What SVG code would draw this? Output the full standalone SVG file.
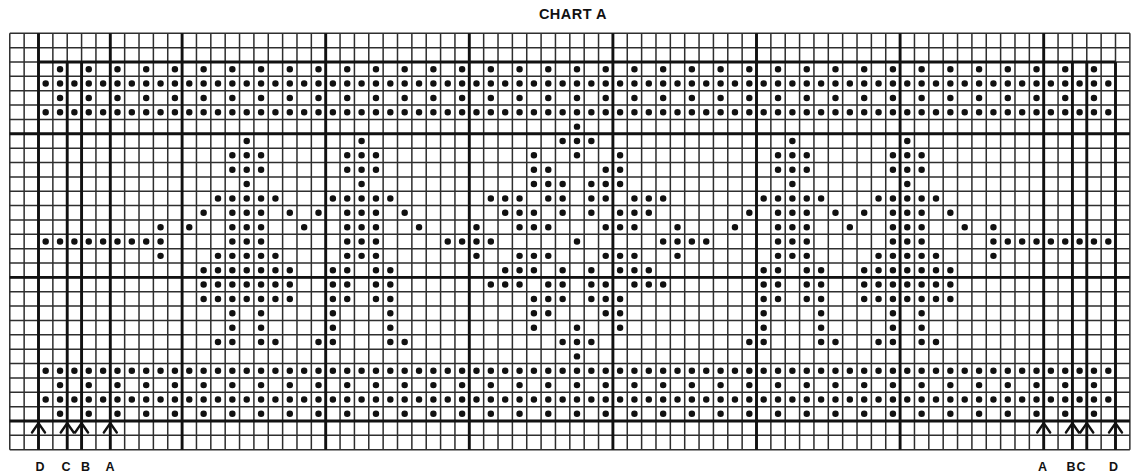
<svg xmlns="http://www.w3.org/2000/svg" width="1139" height="475" viewBox="0 0 1139 475">
<style>
.thin{fill:none;stroke:#2e2e2e;stroke-width:1.5;vector-effect:non-scaling-stroke}
.thick{fill:none;stroke:#111;stroke-width:2.9;vector-effect:non-scaling-stroke}
.arr{fill:none;stroke:#111;stroke-width:2.4;vector-effect:non-scaling-stroke;stroke-linejoin:round;stroke-linecap:round}
.dot{fill:none;stroke:#111;stroke-width:.45;stroke-linecap:round}
.d1{stroke-dasharray:0 1}
.d2{stroke-dasharray:0 2}
text{font-family:"Liberation Sans",Arial,sans-serif;font-weight:bold;fill:#111}
.lbl{font-size:12.5px;text-anchor:middle}
</style>
<rect width="1139" height="475" fill="#fff"/>
<text x="573" y="19" font-size="14.5" letter-spacing=".5" text-anchor="middle">CHART A</text>
<g id="grid" transform="translate(38.5 62) scale(14.36)">
<path class="thin" d="M-2-2V27M-1-2V27M0-2V27M1-2V27M2-2V27M3-2V27M4-2V27M5-2V27M6-2V27M7-2V27M8-2V27M9-2V27M10-2V27M11-2V27M12-2V27M13-2V27M14-2V27M15-2V27M16-2V27M17-2V27M18-2V27M19-2V27M20-2V27M21-2V27M22-2V27M23-2V27M24-2V27M25-2V27M26-2V27M27-2V27M28-2V27M29-2V27M30-2V27M31-2V27M32-2V27M33-2V27M34-2V27M35-2V27M36-2V27M37-2V27M38-2V27M39-2V27M40-2V27M41-2V27M42-2V27M43-2V27M44-2V27M45-2V27M46-2V27M47-2V27M48-2V27M49-2V27M50-2V27M51-2V27M52-2V27M53-2V27M54-2V27M55-2V27M56-2V27M57-2V27M58-2V27M59-2V27M60-2V27M61-2V27M62-2V27M63-2V27M64-2V27M65-2V27M66-2V27M67-2V27M68-2V27M69-2V27M70-2V27M71-2V27M72-2V27M73-2V27M74-2V27M75-2V27M76-2V27"/>
<path class="thin" d="M-2-2H76M-2-1H76M-2 0H76M-2 1H76M-2 2H76M-2 3H76M-2 4H76M-2 5H76M-2 6H76M-2 7H76M-2 8H76M-2 9H76M-2 10H76M-2 11H76M-2 12H76M-2 13H76M-2 14H76M-2 15H76M-2 16H76M-2 17H76M-2 18H76M-2 19H76M-2 20H76M-2 21H76M-2 22H76M-2 23H76M-2 24H76M-2 25H76M-2 26H76M-2 27H76"/>
<path class="thick" d="M0-2V27M5-2V27M10-2V27M20-2V27M30-2V27M40-2V27M50-2V27M60-2V27M70-2V27M2 0V27M3 0V27M72 0V27M73 0V27M75 0V27M0 0H75M-2 5H76M-2 15H76M-2 25H76"/>
</g>
<g id="arrows" transform="translate(38.5 62) scale(14.36)">
<path class="arr" d="M-0.45 25.8L0 25.15L0.45 25.8M1.55 25.8L2 25.15L2.45 25.8M2.55 25.8L3 25.15L3.45 25.8M4.55 25.8L5 25.15L5.45 25.8M69.55 25.8L70 25.15L70.45 25.8M71.55 25.8L72 25.15L72.45 25.8M72.55 25.8L73 25.15L73.45 25.8M74.55 25.8L75 25.15L75.45 25.8"/>
</g>
<g id="dots" transform="translate(45.68 69.19) scale(14.36)">
<path class="dot d2" d="M1 0H73.01M1 2H73.01M1 22H73.01M1 24H73.01"/>
<path class="dot d1" d="M0 1H74.01M0 3H74.01M0 21H74.01M0 23H74.01M0 12H8.01M66 12H74.01M11 14H17.01M57 14H63.01M11 15H17.01M57 15H63.01M11 16H17.01M57 16H63.01"/>
<path class="dot" d="M37 4h0"/>
<path class="dot" d="M14 5h0M22 5h0M36 5h0M37 5h0M38 5h0M52 5h0M60 5h0"/>
<path class="dot" d="M13 6h0M14 6h0M15 6h0M21 6h0M22 6h0M23 6h0M34 6h0M37 6h0M40 6h0M51 6h0M52 6h0M53 6h0M59 6h0M60 6h0M61 6h0"/>
<path class="dot" d="M13 7h0M14 7h0M15 7h0M21 7h0M22 7h0M23 7h0M34 7h0M35 7h0M39 7h0M40 7h0M51 7h0M52 7h0M53 7h0M59 7h0M60 7h0M61 7h0"/>
<path class="dot" d="M14 8h0M22 8h0M34 8h0M35 8h0M36 8h0M38 8h0M39 8h0M40 8h0M52 8h0M60 8h0"/>
<path class="dot" d="M12 9h0M13 9h0M14 9h0M15 9h0M16 9h0M20 9h0M21 9h0M22 9h0M23 9h0M24 9h0M31 9h0M32 9h0M33 9h0M35 9h0M36 9h0M38 9h0M39 9h0M41 9h0M42 9h0M43 9h0M50 9h0M51 9h0M52 9h0M53 9h0M54 9h0M58 9h0M59 9h0M60 9h0M61 9h0M62 9h0"/>
<path class="dot" d="M11 10h0M13 10h0M14 10h0M15 10h0M17 10h0M19 10h0M21 10h0M22 10h0M23 10h0M25 10h0M32 10h0M33 10h0M34 10h0M36 10h0M38 10h0M40 10h0M41 10h0M42 10h0M49 10h0M51 10h0M52 10h0M53 10h0M55 10h0M57 10h0M59 10h0M60 10h0M61 10h0M63 10h0"/>
<path class="dot" d="M8 11h0M10 11h0M13 11h0M14 11h0M15 11h0M18 11h0M21 11h0M22 11h0M23 11h0M26 11h0M30 11h0M33 11h0M34 11h0M35 11h0M39 11h0M40 11h0M41 11h0M44 11h0M48 11h0M51 11h0M52 11h0M53 11h0M56 11h0M59 11h0M60 11h0M61 11h0M64 11h0M66 11h0"/>
<path class="dot" d="M13 12h0M14 12h0M15 12h0M21 12h0M22 12h0M23 12h0M28 12h0M29 12h0M30 12h0M31 12h0M37 12h0M43 12h0M44 12h0M45 12h0M46 12h0M51 12h0M52 12h0M53 12h0M59 12h0M60 12h0M61 12h0"/>
<path class="dot" d="M8 13h0M12 13h0M13 13h0M14 13h0M15 13h0M16 13h0M21 13h0M22 13h0M23 13h0M30 13h0M33 13h0M34 13h0M35 13h0M39 13h0M40 13h0M41 13h0M44 13h0M51 13h0M52 13h0M53 13h0M58 13h0M59 13h0M60 13h0M61 13h0M62 13h0M66 13h0"/>
<path class="dot" d="M20 14h0M21 14h0M23 14h0M24 14h0M32 14h0M33 14h0M34 14h0M36 14h0M38 14h0M40 14h0M41 14h0M42 14h0M50 14h0M51 14h0M53 14h0M54 14h0"/>
<path class="dot" d="M20 15h0M21 15h0M23 15h0M24 15h0M31 15h0M32 15h0M33 15h0M35 15h0M36 15h0M38 15h0M39 15h0M41 15h0M42 15h0M43 15h0M50 15h0M51 15h0M53 15h0M54 15h0"/>
<path class="dot" d="M20 16h0M21 16h0M23 16h0M24 16h0M34 16h0M35 16h0M36 16h0M38 16h0M39 16h0M40 16h0M50 16h0M51 16h0M53 16h0M54 16h0"/>
<path class="dot" d="M13 17h0M15 17h0M20 17h0M24 17h0M34 17h0M35 17h0M39 17h0M40 17h0M50 17h0M54 17h0M59 17h0M61 17h0"/>
<path class="dot" d="M13 18h0M15 18h0M20 18h0M24 18h0M34 18h0M37 18h0M40 18h0M50 18h0M54 18h0M59 18h0M61 18h0"/>
<path class="dot" d="M12 19h0M13 19h0M15 19h0M16 19h0M19 19h0M20 19h0M24 19h0M25 19h0M36 19h0M37 19h0M38 19h0M49 19h0M50 19h0M54 19h0M55 19h0M58 19h0M59 19h0M61 19h0M62 19h0"/>
<path class="dot" d="M37 20h0"/>
</g>
<g id="labels">
<text class="lbl" x="40" y="471">D</text>
<text class="lbl" x="66" y="471">C</text>
<text class="lbl" x="85.5" y="471">B</text>
<text class="lbl" x="110" y="471">A</text>
<text class="lbl" x="1042.5" y="471">A</text>
<text class="lbl" x="1071" y="471">B</text>
<text class="lbl" x="1081" y="471">C</text>
<text class="lbl" x="1113.5" y="471">D</text>
</g>
</svg>
